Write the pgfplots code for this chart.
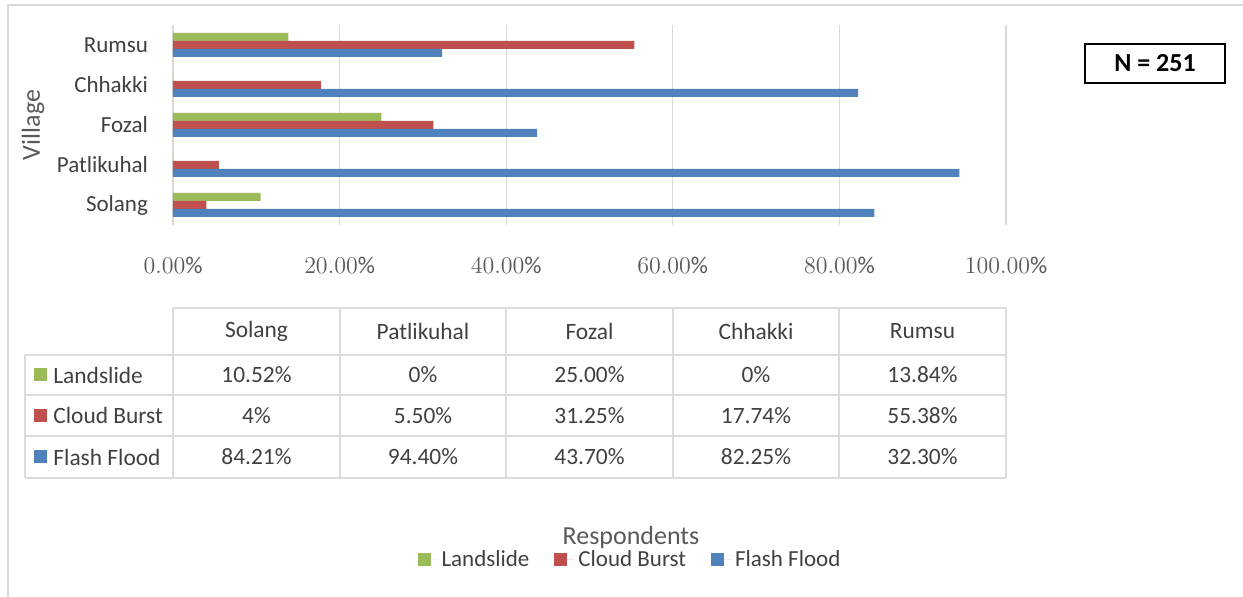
\documentclass[border=0pt]{standalone}
\usepackage{pgfplots}
\pgfplotsset{compat=1.18}
\usepackage{pgfplotstable}
\usepackage{fontspec}
\setmainfont{Carlito}

\definecolor{lsgreen}{HTML}{9BBB59}
\definecolor{cbred}{HTML}{C0504D}
\definecolor{ffblue}{HTML}{4F81BD}
\definecolor{txt}{HTML}{404040}
\definecolor{tickc}{HTML}{595959}
\definecolor{gridc}{HTML}{D9D9D9}
\definecolor{tabc}{HTML}{DCDCDC}

\pgfplotstableread{
pos landslide cloud flash
0 10.52 4 84.21
1 0 5.50 94.40
2 25.00 31.25 43.70
3 0 17.74 82.25
4 13.84 55.38 32.30
}\datatable

\begin{document}
\begin{tikzpicture}[x=0.5pt,y=-0.5pt]
\useasboundingbox (0,0) rectangle (1243,597);
\draw[gridc, line width=1pt] (8,597) -- (8,5) -- (1243,5);
\begin{axis}[
  at={(86.5pt,-112.5pt)}, anchor=south west,
  scale only axis, width=416.5pt, height=100pt,
  xmin=0, xmax=100, ymin=-0.5, ymax=4.5,
  axis line style={draw=none},
  tick style={draw=none},
  xtick={0,20,...,100},
  xticklabel={$\pgfmathprintnumber[fixed,fixed zerofill,precision=2]{\tick}\%$},
  xticklabel style={anchor=center, yshift=-20pt, font=\fontsize{12}{14}\selectfont, text=tickc},
  ytick={0,1,2,3,4},
  yticklabels={Solang,Patlikuhal,Fozal,Chhakki,Rumsu},
  yticklabel style={anchor=east, xshift=-9pt, font=\fontsize{11.5}{13}\selectfont, text=txt},
  xmajorgrids, major x grid style={gridc, line width=0.6pt},
  legend columns=3,
  legend style={at={(axis description cs:0.5498,-1.675)}, anchor=center, draw=none, fill=none,
    font=\fontsize{11.5}{13}\selectfont, text=txt,
    /tikz/every even column/.append style={column sep=10.5pt}},
  legend cell align=left,
  legend image code/.code={\fill[#1] (0pt,-3.25pt) rectangle (6.5pt,3.25pt); \path (0pt,0pt) -- (10pt,0pt);},
]
\addplot[xbar, bar width=4pt, bar shift=4pt, fill=lsgreen, draw=none] table[x=landslide,y=pos]{\datatable};
\addlegendentry{Landslide}
\addplot[xbar, bar width=4pt, bar shift=0pt, fill=cbred, draw=none] table[x=cloud,y=pos]{\datatable};
\addlegendentry{Cloud Burst}
\addplot[xbar, bar width=4pt, bar shift=-4pt, fill=ffblue, draw=none] table[x=flash,y=pos]{\datatable};
\addlegendentry{Flash Flood}
\end{axis}
% y axis title
\node[rotate=90, text=tickc, font=\fontsize{13}{15}\selectfont] at (33,125) {Village};
% N box
\node[draw=black, line width=1pt, minimum width=70pt, minimum height=19.5pt, inner sep=0pt,
      font=\fontsize{13}{15}\selectfont\bfseries] at (1155,63.5) {\raisebox{-2pt}{N = 251}};
% data table grid
\begin{scope}[tabc, line width=0.8pt]
\draw (173,308) -- (1006,308);
\foreach \yy in {355,395,436,478} {\draw (25,\yy) -- (1006,\yy);}
\draw (25,355) -- (25,478);
\foreach \xx in {173,340,506,673,839,1006} {\draw (\xx,308) -- (\xx,478);}
\end{scope}
\begin{scope}[every node/.style={text=txt, font=\fontsize{11.7}{14}\selectfont, anchor=center}]
\node at (256.5,331) {Solang};
\node at (423,331) {Patlikuhal};
\node at (589.5,331) {Fozal};
\node at (756,331) {Chhakki};
\node at (922.5,331) {Rumsu};
\node at (256.5,375) {10.52\%};
\node at (423,375) {0\%};
\node at (589.5,375) {25.00\%};
\node at (756,375) {0\%};
\node at (922.5,375) {13.84\%};
\node at (256.5,415.5) {4\%};
\node at (423,415.5) {5.50\%};
\node at (589.5,415.5) {31.25\%};
\node at (756,415.5) {17.74\%};
\node at (922.5,415.5) {55.38\%};
\node at (256.5,457) {84.21\%};
\node at (423,457) {94.40\%};
\node at (589.5,457) {43.70\%};
\node at (756,457) {82.25\%};
\node at (922.5,457) {32.30\%};
\node[anchor=west, inner sep=0pt] at (53,375) {Landslide};
\node[anchor=west, inner sep=0pt] at (53,415.5) {Cloud Burst};
\node[anchor=west, inner sep=0pt] at (53,457) {Flash Flood};
\end{scope}
\fill[lsgreen] (34,368.5) rectangle (47,381.5);
\fill[cbred] (34,409) rectangle (47,422);
\fill[ffblue] (34,450.5) rectangle (47,463.5);
% legend title
\node[text=tickc, font=\fontsize{13}{15}\selectfont] at (631,538) {Respondents};
\end{tikzpicture}
\end{document}
